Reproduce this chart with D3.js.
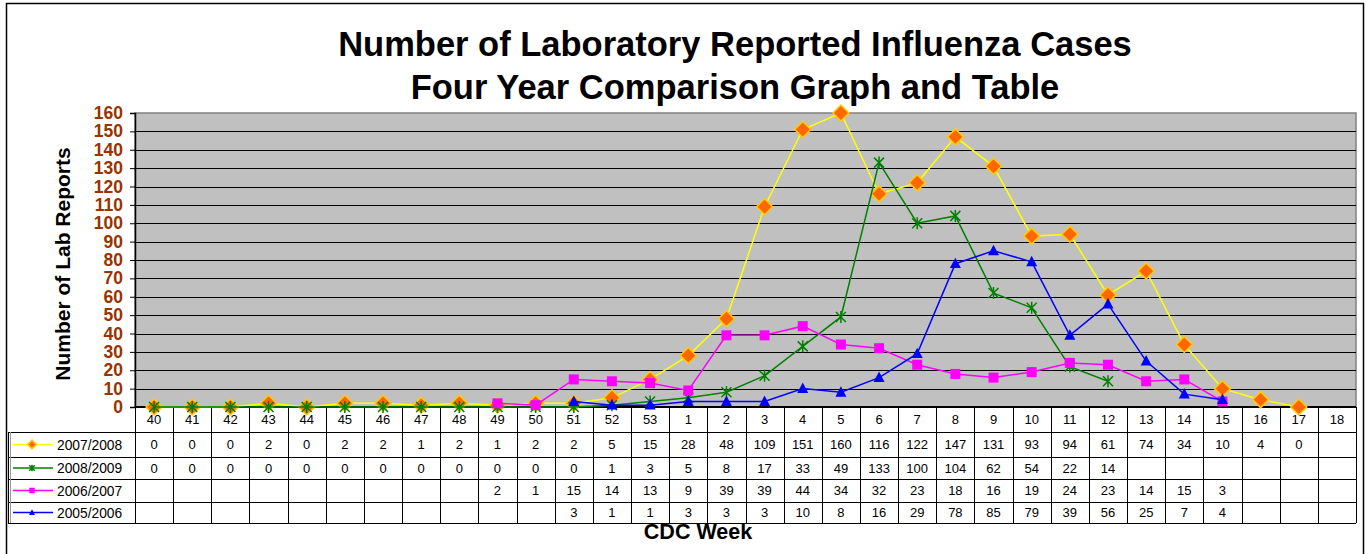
<!DOCTYPE html>
<html>
<head>
<meta charset="utf-8">
<script src="https://cdn.jsdelivr.net/npm/d3@7"></script>
<style>
  html, body { margin: 0; padding: 0; background: #fff; }
  svg { display: block; font-family: "Liberation Sans", Arial, sans-serif; }
</style>
</head>
<body>
<svg id="chart" width="1366" height="554"></svg>
<script>
// ---- Data ----
const weeks = ["40","41","42","43","44","45","46","47","48","49","50","51","52","53",
  "1","2","3","4","5","6","7","8","9","10","11","12","13","14","15","16","17","18"];
const yTicks = [0,10,20,30,40,50,60,70,80,90,100,110,120,130,140,150,160];
const seriesNames = ["2007/2008","2008/2009","2006/2007","2005/2006"];
const s0708 = [0,0,0,2,0,2,2,1,2,1,2,2,5,15,28,48,109,151,160,116,122,147,131,93,94,61,74,34,10,4,0,null];
const s0809 = [0,0,0,0,0,0,0,0,0,0,0,0,1,3,5,8,17,33,49,133,100,104,62,54,22,14,null,null,null,null,null,null];
const s0607 = [null,null,null,null,null,null,null,null,null,2,1,15,14,13,9,39,39,44,34,32,23,18,16,19,24,23,14,15,3,null,null,null];
const s0506 = [null,null,null,null,null,null,null,null,null,null,null,3,1,1,3,3,3,10,8,16,29,78,85,79,39,56,25,7,4,null,null,null];
const titleLines = ["Number of Laboratory Reported Influenza Cases", "Four Year Comparison Graph and Table"];

const seriesValues = [s0708, s0809, s0607, s0506];
const styles = [
  { line: "#FFFF00", fill: "#FF6600", stroke: "#FFCC00", marker: "diamond" },
  { line: "#008000", fill: "none", stroke: "#008000", marker: "star" },
  { line: "#FF00FF", fill: "#FF00FF", stroke: "#FF00FF", marker: "square" },
  { line: "#0000FF", fill: "#0000FF", stroke: "#0000FF", marker: "triangle" }
];

// ---- Layout ----
const svg = d3.select("#chart");
const L = 135, R = 1356, T = 113, B = 407;
const x = d3.scaleBand().domain(weeks).range([L, R]).padding(0);
const y = d3.scaleLinear().domain([0, 160]).range([B, T]);
const cx = w => x(w) + x.bandwidth() / 2;

// outer frame
svg.append("rect").attr("x", 6.5).attr("y", 3.5).attr("width", 1357).attr("height", 560)
  .attr("fill", "none").attr("stroke", "#000").attr("stroke-width", 1.5);

// title
svg.append("g").selectAll("text").data(titleLines).join("text")
  .attr("x", 735).attr("y", (d, i) => 56 + i * 43)
  .attr("text-anchor", "middle").attr("font-weight", "bold").attr("font-size", 34.5)
  .attr("fill", "#000").text(d => d);

// plot background
svg.append("rect").attr("x", L).attr("y", T).attr("width", R - L).attr("height", B - T)
  .attr("fill", "#C0C0C0").attr("stroke", "#808080").attr("stroke-width", 1.5);

// gridlines
svg.append("g").selectAll("line").data(yTicks.filter(t => t > 0 && t < 160)).join("line")
  .attr("x1", L).attr("x2", R)
  .attr("y1", d => Math.round(y(d)) + 0.5).attr("y2", d => Math.round(y(d)) + 0.5)
  .attr("stroke", "#000").attr("stroke-width", 1);

// y axis
const yAxis = svg.append("g").attr("transform", `translate(${L},0)`)
  .call(d3.axisLeft(y).tickValues(yTicks).tickSize(5).tickPadding(7));
yAxis.select(".domain").attr("stroke", "#000").attr("stroke-width", 1.5);
yAxis.selectAll(".tick line").attr("stroke", "#000");
yAxis.selectAll(".tick text").attr("font-size", 17.5).attr("font-weight", "bold")
  .attr("fill", "#993300").attr("font-family", "Liberation Sans, Arial, sans-serif");

// y title
svg.append("text").attr("transform", "translate(70,264) rotate(-90)")
  .attr("text-anchor", "middle").attr("font-weight", "bold").attr("font-size", 21)
  .text("Number of Lab Reports");

// x axis baseline
svg.append("line").attr("x1", L).attr("x2", R).attr("y1", B).attr("y2", B)
  .attr("stroke", "#000").attr("stroke-width", 2);

// ---- Table ----
const rowTops = [407, 432, 457, 479, 502, 523];
const tbl = svg.append("g");
// week row verticals
tbl.selectAll("line.v").data(weeks.concat(["end"])).join("line")
  .attr("x1", (d, i) => Math.round(L + i * x.bandwidth()) + 0.5)
  .attr("x2", (d, i) => Math.round(L + i * x.bandwidth()) + 0.5)
  .attr("y1", B).attr("y2", 523)
  .attr("stroke", "#000").attr("stroke-width", 1);
// row horizontals
tbl.selectAll("line.h").data(rowTops.slice(1)).join("line")
  .attr("x1", 8).attr("x2", R).attr("y1", d => d + 0.5).attr("y2", d => d + 0.5)
  .attr("stroke", "#000").attr("stroke-width", 1);
// left border of header column
tbl.append("line").attr("x1", 8.5).attr("x2", 8.5).attr("y1", 432).attr("y2", 523)
  .attr("stroke", "#000").attr("stroke-width", 1);
tbl.append("line").attr("x1", 10.5).attr("x2", 10.5).attr("y1", 432).attr("y2", 523)
  .attr("stroke", "#999").attr("stroke-width", 1);
// week labels
tbl.selectAll("text.wk").data(weeks).join("text")
  .attr("x", d => cx(d)).attr("y", 423.5).attr("text-anchor", "middle")
  .attr("font-size", 13).text(d => d);
// values
seriesValues.forEach((vals, si) => {
  const yc = (rowTops[si + 1] + rowTops[si + 2]) / 2 + 4.5;
  tbl.append("g").selectAll("text").data(vals.map((v, i) => ({ v, w: weeks[i] })).filter(d => d.v !== null))
    .join("text").attr("x", d => cx(d.w)).attr("y", yc).attr("text-anchor", "middle")
    .attr("font-size", 13).text(d => d.v);
});

// ---- Markers ----
function drawMarker(g, type, st, px, py, scale) {
  const s = scale || 1;
  if (type === "diamond") {
    const r = 8 * s;
    g.append("path").attr("d", `M${px},${py - r}L${px + r},${py}L${px},${py + r}L${px - r},${py}Z`)
      .attr("fill", st.fill).attr("stroke", st.stroke).attr("stroke-width", 1.5);
  } else if (type === "square") {
    const r = 5 * s;
    g.append("rect").attr("x", px - r).attr("y", py - r).attr("width", 2 * r).attr("height", 2 * r)
      .attr("fill", st.fill);
  } else if (type === "triangle") {
    const r = 5.5 * s;
    g.append("path").attr("d", `M${px},${py - r * 1.1}L${px + r},${py + r * 0.8}L${px - r},${py + r * 0.8}Z`)
      .attr("fill", st.fill);
  } else if (type === "star") {
    const r = 5 * s;
    const p = [];
    p.push(`M${px - r},${py - r}L${px + r},${py + r}`);
    p.push(`M${px + r},${py - r}L${px - r},${py + r}`);
    p.push(`M${px},${py - r * 1.2}L${px},${py + r * 1.2}`);
    g.append("path").attr("d", p.join("")).attr("stroke", st.stroke).attr("stroke-width", 1.5).attr("fill", "none");
  }
}

const line = d3.line().defined(d => d.v !== null).x(d => cx(d.w)).y(d => y(d.v));
const plot = svg.append("g");
seriesValues.forEach((vals, si) => {
  const st = styles[si];
  const data = vals.map((v, i) => ({ v, w: weeks[i] }));
  const g = plot.append("g");
  g.append("path").datum(data).attr("d", line).attr("fill", "none")
    .attr("stroke", st.line).attr("stroke-width", 1.5);
  data.filter(d => d.v !== null).forEach(d => drawMarker(g, st.marker, st, cx(d.w), y(d.v)));
});

// ---- Legend keys in table ----
seriesNames.forEach((name, si) => {
  const st = styles[si];
  const yc = (rowTops[si + 1] + rowTops[si + 2]) / 2;
  const g = tbl.append("g");
  g.append("line").attr("x1", 13).attr("x2", 53).attr("y1", yc).attr("y2", yc)
    .attr("stroke", st.line).attr("stroke-width", 1.5);
  drawMarker(g, st.marker, st, 32, yc, 0.55);
  g.append("text").attr("x", 57).attr("y", yc + 5).attr("font-size", 13.8).text(name);
});

// x title
svg.append("text").attr("x", 698).attr("y", 539).attr("text-anchor", "middle")
  .attr("font-weight", "bold").attr("font-size", 21.5).text("CDC Week");
</script>
</body>
</html>
